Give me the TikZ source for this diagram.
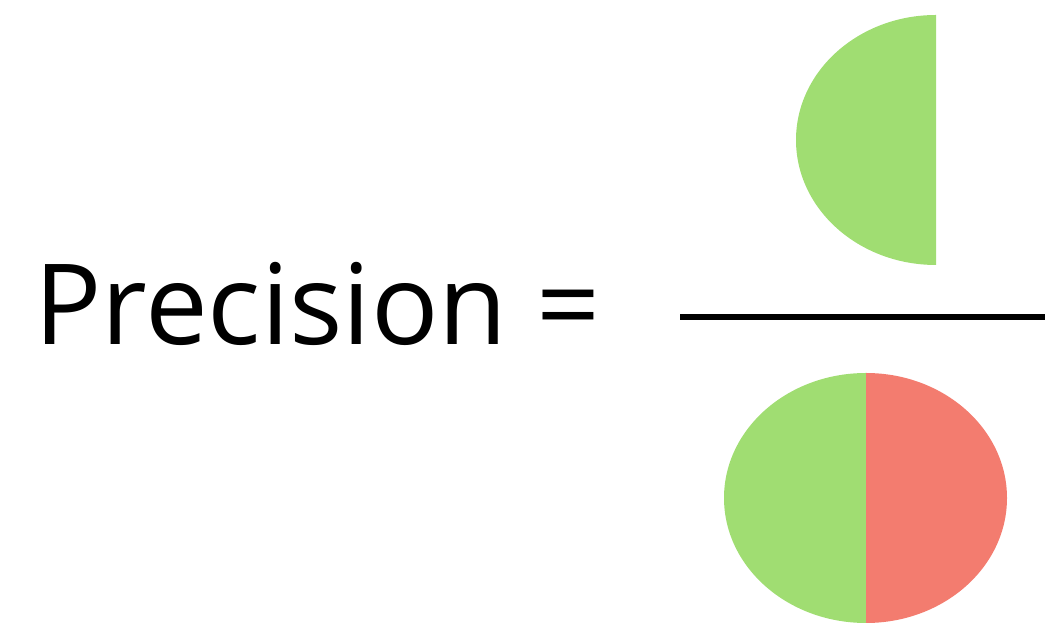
\documentclass[tikz,border=0pt]{standalone}
\usepackage{fontspec}
\setmainfont{Open Sans}
\definecolor{pgreen}{HTML}{A0DD72}
\definecolor{pred}{HTML}{F37C6F}
\tikzset{lbl/.style={inner sep=0pt, font=\fontsize{112}{120}\selectfont}}
\begin{document}
\begin{tikzpicture}[x=1pt,y=1pt]
\useasboundingbox (0,0) rectangle (1045,626);
% top half ellipse
\fill[pgreen] (936,611) -- (936,361) arc[start angle=-90, end angle=-270, x radius=140, y radius=125] -- cycle;
% fraction bar
\draw[line width=6pt] (680,309) -- (1045,309);
% bottom ellipse
\fill[pgreen] (866,253) arc[start angle=90, end angle=270, x radius=142, y radius=125] -- cycle;
\fill[pred] (866,253) arc[start angle=90, end angle=-90, x radius=141, y radius=125] -- cycle;
\node[lbl, anchor=base west] (t) at (34,281) {Precision =};
\end{tikzpicture}
\end{document}
